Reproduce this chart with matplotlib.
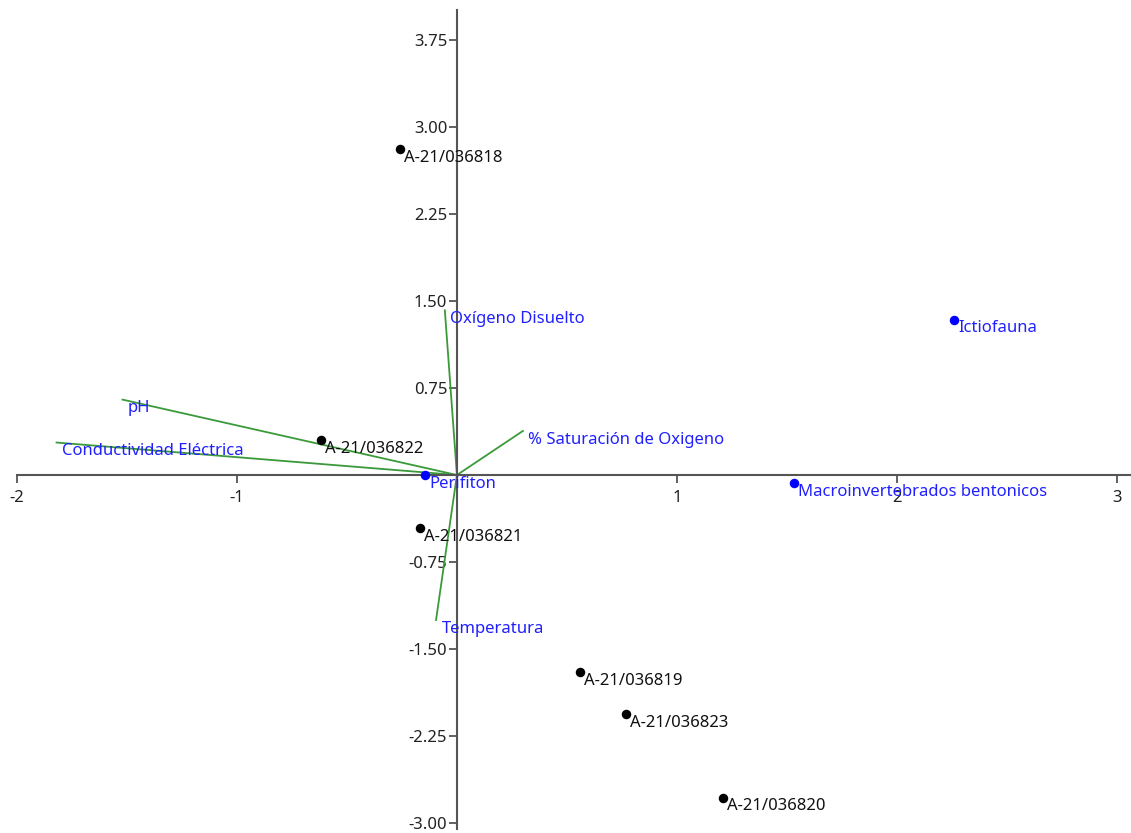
import matplotlib
matplotlib.use('Agg')
import matplotlib.pyplot as plt

# Sample scores (black)
samples = ['A-21/036818', 'A-21/036822', 'A-21/036821', 'A-21/036819', 'A-21/036823', 'A-21/036820']
samples_x = [-0.26, -0.62, -0.17, 0.56, 0.77, 1.21]
samples_y = [2.81, 0.30, -0.46, -1.70, -2.06, -2.78]

# Species scores (blue)
species = ['Perifiton', 'Macroinvertebrados bentonicos', 'Ictiofauna']
species_x = [-0.145, 1.53, 2.26]
species_y = [0.0, -0.07, 1.34]

# Environmental vectors (green)
env = ['Oxígeno Disuelto', 'pH', 'Conductividad Eléctrica', '% Saturación de Oxigeno', 'Temperatura']
env_x = [-0.055, -1.52, -1.82, 0.30, -0.095]
env_y = [1.42, 0.65, 0.28, 0.38, -1.25]

xticks = [-2, -1, 1, 2, 3]
yticks = [-3.0, -2.25, -1.5, -0.75, 0.75, 1.5, 2.25, 3.0, 3.75]

plt.rcParams['font.family'] = ['Noto Sans', 'DejaVu Sans']
fs = 12

fig = plt.figure(figsize=(11.31, 8.33), dpi=100)
ax = fig.add_axes([0, 0, 1, 1])
ax.set_xlim(-2.077, 3.064)
ax.set_ylim(-3.086, 4.095)

axcol = '#555555'
ax.spines['left'].set_position(('data', 0))
ax.spines['bottom'].set_position(('data', 0))
ax.spines['right'].set_visible(False)
ax.spines['top'].set_visible(False)
ax.spines['left'].set_bounds(-3.05, 4.01)
ax.spines['bottom'].set_bounds(-2.0, 3.064)
for s in ['left', 'bottom']:
    ax.spines[s].set_color(axcol)
    ax.spines[s].set_linewidth(1.5)

ax.set_xticks(xticks)
ax.set_xticklabels([str(t) for t in xticks])
ax.set_yticks(yticks)
ax.set_yticklabels(['%.2f' % t for t in yticks])
ax.tick_params(axis='both', direction='out', length=6, width=1.3, color=axcol,
               labelsize=fs, labelcolor='#222222')
ax.tick_params(axis='x', pad=5)
ax.tick_params(axis='y', pad=1)

# environmental vectors from the origin
for xe, ye in zip(env_x, env_y):
    ax.plot([0, xe], [0, ye], color='#3a9a3a', lw=1.3, zorder=2)
for name, xe, ye in zip(env, env_x, env_y):
    ax.annotate(name, (xe, ye), xytext=(4, -0.5), textcoords='offset points',
                ha='left', va='top', color='#2020ff', fontsize=fs)

ax.scatter(samples_x, samples_y, s=34, color='black', zorder=3)
for name, xs, ys in zip(samples, samples_x, samples_y):
    ax.annotate(name, (xs, ys), xytext=(3, -0.5), textcoords='offset points',
                ha='left', va='top', color='#111111', fontsize=fs)

ax.scatter(species_x, species_y, s=34, color='#0000ff', zorder=3)
for name, xs, ys in zip(species, species_x, species_y):
    ax.annotate(name, (xs, ys), xytext=(3, -0.5), textcoords='offset points',
                ha='left', va='top', color='#2020ff', fontsize=fs)

fig.savefig('out.png', dpi=100)
